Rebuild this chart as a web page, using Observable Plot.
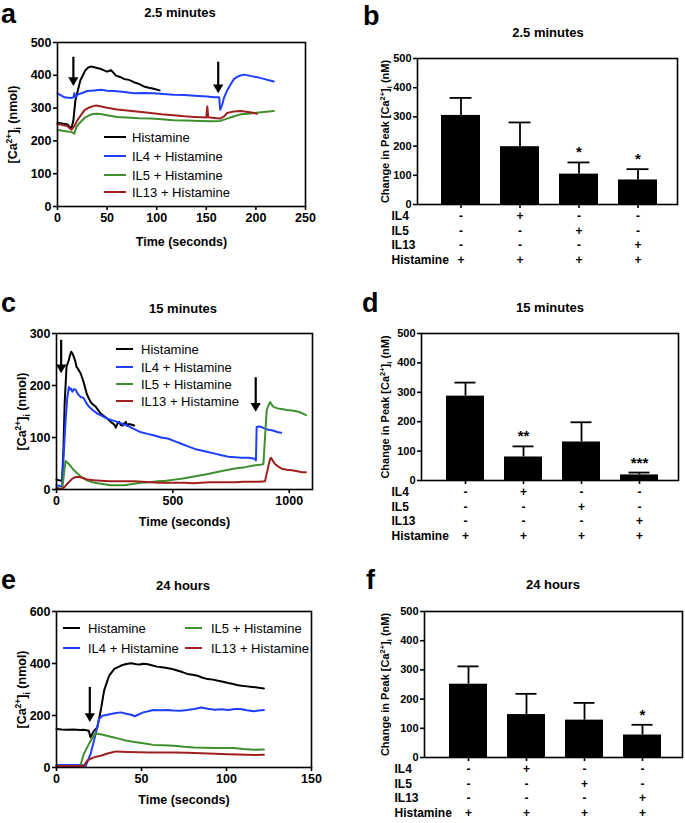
<!DOCTYPE html>
<html><head><meta charset="utf-8">
<script src="https://cdn.jsdelivr.net/npm/d3@7"></script>
<script src="https://cdn.jsdelivr.net/npm/@observablehq/plot@0.6"></script>
<style>
body{margin:0;background:#fff;}
#root{position:relative;width:685px;height:823px;overflow:hidden;font-family:"Liberation Sans",Arial,Helvetica,sans-serif;color:#000;}
.letter{position:absolute;font-weight:bold;font-size:27px;line-height:29px;}
.title{position:absolute;font-weight:bold;font-size:13px;line-height:13px;transform:translateX(-50%);white-space:nowrap;}
.leg{position:absolute;height:16px;display:flex;align-items:center;font-size:13px;white-space:nowrap;}
.sw{display:inline-block;height:2.5px;}
</style>
</head><body><div id="root"></div>
<script>
// ---------- data ----------
const seriesNames = ["Histamine", "IL4 + Histamine", "IL5 + Histamine", "IL13 + Histamine"];
const seriesColors = ["#000000", "#1f3fff", "#3f8f2f", "#a02020"];

// Panel a: 2.5 minutes traces [time s, Ca nmol]
const aHist = [[0,255],[6,252],[10,250],[14,237],[16,262],[18,323],[23,384],[28,415],[31,424],[34,427],[38,424],[44,419],[50,411],[54,416],[59,399],[63,395],[67,389],[72,386],[77,379],[82,374],[87,366],[92,362],[97,359],[103,354]];
const aIL4 = [[0,345],[4,338],[7,333],[13,331],[16,332],[17,345],[18,333],[20,341],[25,346],[30,352],[37,354],[44,356],[50,353],[57,352],[65,350],[77,345],[87,346],[97,345],[107,343],[117,341],[128,340],[138,338],[151,335],[158,333],[163,333],[164,295],[166,310],[168,333],[171,354],[175,375],[178,389],[183,398],[188,402],[193,399],[198,396],[203,393],[208,389],[213,385],[218,381]];
const aIL5 = [[0,234],[5,231],[10,229],[15,226],[17,222],[19,242],[22,254],[25,263],[28,272],[32,278],[36,282],[40,283],[45,281],[50,278],[60,273],[70,271],[82,269],[94,268],[105,266],[117,263],[130,262],[144,261],[155,260],[164,261],[168,265],[171,268],[178,275],[185,281],[192,283],[198,285],[208,288],[218,291]];
const aIL13 = [[0,252],[6,248],[10,245],[14,234],[17,245],[20,263],[24,280],[27,293],[32,302],[36,306],[39,308],[44,305],[50,301],[60,296],[70,293],[82,289],[94,285],[105,281],[117,278],[128,275],[138,273],[145,272],[150,271],[151,305],[152,272],[158,270],[164,268],[168,275],[171,285],[178,290],[185,291],[192,288],[197,286],[201,283]];
const aArrows = [{t:16, top:455, tip:376}, {t:162, top:440, tip:354}];
const aXTicks = [0, 50, 100, 150, 200, 250];
const aYTicks = [0, 100, 200, 300, 400, 500];

// Panel c: 15 minutes traces
const cHist = [[0,19],[10,18],[24,17],[30,80],[35,165],[43,236],[53,249],[58,258],[63,265],[68,262],[72,258],[80,248],[86,236],[95,230],[104,223],[111,214],[118,204],[124,194],[130,184],[138,176],[147,168],[158,163],[169,159],[180,152],[190,146],[205,141],[219,136],[233,130],[248,125],[255,119],[262,127],[269,130],[276,124],[284,123],[291,127],[298,130],[305,122],[312,126],[320,125],[334,123]];
const cIL4 = [[0,8],[10,7],[24,6],[30,60],[39,133],[46,175],[53,197],[58,192],[63,194],[68,188],[75,193],[82,192],[90,185],[97,181],[104,178],[111,177],[118,175],[126,168],[133,163],[140,159],[155,153],[176,146],[197,141],[219,136],[240,133],[262,130],[284,126],[305,123],[334,116],[363,110],[392,107],[421,104],[450,100],[478,98],[507,93],[536,88],[565,83],[594,78],[622,75],[651,72],[680,69],[709,66],[738,63],[767,62],[796,61],[824,61],[853,59],[857,56],[860,120],[870,121],[882,120],[896,117],[911,115],[925,114],[939,112],[952,110],[965,109]];
const cIL5 = [[0,3],[15,2],[25,2],[32,30],[39,55],[46,52],[53,49],[64,43],[75,37],[90,31],[104,25],[118,21],[133,17],[155,14],[176,12],[205,10],[233,8],[262,8],[291,8],[320,10],[363,13],[400,14],[435,16],[470,17],[507,19],[543,21],[579,24],[615,27],[651,30],[695,34],[738,38],[774,41],[810,43],[846,46],[882,48],[889,49],[896,100],[903,152],[911,162],[918,168],[925,163],[932,159],[950,156],[968,155],[990,153],[1012,152],[1035,150],[1055,147],[1072,143]];
const cIL13 = [[0,2],[24,1],[35,5],[46,11],[57,16],[68,21],[82,24],[97,24],[115,22],[133,19],[160,18],[190,17],[226,16],[262,16],[298,16],[334,16],[370,15],[406,14],[442,13],[478,13],[514,13],[550,13],[586,12],[622,13],[658,14],[695,14],[731,14],[767,14],[803,15],[839,15],[870,15],[896,16],[903,30],[911,46],[918,58],[922,61],[930,55],[939,49],[953,44],[968,40],[990,38],[1012,37],[1035,35],[1055,33],[1072,33]];
const cArrows = [{t:20, top:287, tip:229}, {t:856, top:215, tip:155}];
const cXTicks = [0, 500, 1000];
const cYTicks = [0, 100, 200, 300];

// Panel e: 24 hours traces
const eHist = [[0,148],[3,146],[6,145],[10,146],[14,144],[16,145],[19,141],[20,116],[21,128],[22,141],[24,154],[26,218],[28,296],[30,335],[31,353],[34,379],[38,392],[41,398],[44,401],[47,397],[49,396],[51,399],[53,398],[56,393],[59,388],[62,386],[65,383],[68,379],[71,373],[74,367],[77,360],[80,357],[83,353],[86,345],[89,340],[92,338],[95,334],[98,330],[101,325],[104,321],[106,317],[109,314],[112,312],[115,310],[118,308],[120,306],[122,304]];
const eIL4 = [[0,10],[8,10],[15,10],[17,3],[20,51],[23,128],[25,186],[27,199],[30,203],[32,206],[35,210],[38,212],[41,207],[44,203],[46,197],[48,203],[51,212],[54,216],[57,221],[61,220],[65,221],[69,219],[73,218],[77,221],[81,225],[85,231],[89,226],[93,222],[97,224],[101,221],[105,225],[108,225],[112,220],[116,216],[119,219],[122,221]];
const eIL5 = [[0,6],[8,6],[14,6],[16,51],[19,90],[21,112],[23,131],[26,128],[29,123],[32,118],[36,112],[40,105],[44,100],[48,96],[52,92],[57,87],[63,86],[69,84],[75,80],[81,77],[87,76],[93,75],[99,75],[104,75],[110,71],[116,68],[122,69]];
const eIL13 = [[0,6],[8,6],[16,6],[18,26],[20,33],[22,39],[26,45],[30,54],[33,59],[35,62],[38,61],[42,60],[48,59],[55,58],[62,58],[69,58],[77,57],[85,55],[93,53],[101,51],[107,50],[112,49],[117,48],[122,49]];
const eArrows = [{t:19.6, top:308, tip:186}];
const eXTicks = [0, 50, 100, 150];
const eYTicks = [0, 200, 400, 600];

// Bar panels: change in peak [Ca2+]i (nM), mean and SEM
const barCats = seriesNames;
const bMean = [305, 198, 104, 84];
const bSem = [60, 83, 40, 37];
const bStars = ["", "", "*", "*"];
const dMean = [287, 80, 131, 19];
const dSem = [46, 36, 67, 8];
const dStars = ["", "**", "", "***"];
const fMean = [251, 147, 128, 77];
const fSem = [61, 71, 59, 35];
const fStars = ["", "", "", "*"];
const barYTicks = [0, 100, 200, 300, 400, 500];

// treatment table under the bars
const treatRows = ["IL4", "IL5", "IL13", "Histamine"];
const treatIL4 = ["-", "+", "-", "-"];
const treatIL5 = ["-", "-", "+", "-"];
const treatIL13 = ["-", "-", "-", "+"];
const treatHist = ["+", "+", "+", "+"];
const treatTable = [treatIL4, treatIL5, treatIL13, treatHist];

const panelTitles = ["2.5 minutes", "2.5 minutes", "15 minutes", "15 minutes", "24 hours", "24 hours"];
const panelLetters = ["a", "b", "c", "d", "e", "f"];

// ---------- drawing ----------
const FONT = '"Liberation Sans", Arial, Helvetica, sans-serif';
const root = document.getElementById("root");
function place(node, left, top) {
  node.style.position = "absolute";
  node.style.left = left + "px";
  node.style.top = top + "px";
  root.appendChild(node);
  return node;
}
function richCa(svg) {
  const ns = "http://www.w3.org/2000/svg";
  svg.querySelectorAll("text").forEach(t => {
    const s = t.textContent;
    const i = s.indexOf("[Ca2+]i");
    if (i < 0) return;
    const fs = parseFloat(getComputedStyle(t).fontSize) || 12;
    const pre = s.slice(0, i) + "[Ca", post = s.slice(i + 7);
    t.textContent = "";
    const add = (txt, dy, size) => {
      const ts = document.createElementNS(ns, "tspan");
      ts.textContent = txt;
      if (dy) ts.setAttribute("dy", dy);
      if (size) ts.setAttribute("font-size", size);
      t.appendChild(ts);
    };
    add(pre);
    add("2+", -0.42 * fs, 0.68 * fs);
    add("]", 0.42 * fs);
    add("i", 0.28 * fs, 0.68 * fs);
    add(post, -0.28 * fs);
  });
}

function linePanel(o) {
  const rows = [];
  o.series.forEach((pts, i) => pts.forEach(([t, v]) => rows.push({t, v, s: seriesNames[i]})));
  const svg = Plot.plot({
    width: o.w, height: o.h,
    marginLeft: o.ml, marginRight: o.mr, marginTop: o.mt, marginBottom: o.mb,
    style: {fontFamily: FONT, color: "#000", background: "transparent", overflow: "visible"},
    x: {domain: o.xDomain},
    y: {domain: o.yDomain},
    color: {domain: seriesNames, range: seriesColors},
    marks: [
      Plot.line(rows, {x: "t", y: "v", z: "s", stroke: "s", strokeWidth: 2, strokeLinejoin: "round"}),
      Plot.ruleX(o.arrows, {x: "t", y1: "top", y2: "tip", stroke: "#000", strokeWidth: 2.2}),
      Plot.dot(o.arrows, {x: "t", y: "tip", symbol: "triangle", rotate: 180, r: 3.8, fill: "#000", dy: -3}),
      Plot.frame({stroke: "#000", strokeWidth: 1.6}),
      Plot.axisX(o.xTicks, {tickSize: 4, tickPadding: 3, strokeWidth: 1.6, fontSize: 12.5, fontWeight: "bold",
        tickFormat: d => String(d),
        label: "Time (seconds)", labelAnchor: "center", labelArrow: "none", labelOffset: o.xLabelOffset}),
      Plot.axisY(o.yTicks, {tickSize: 4, tickPadding: 2, strokeWidth: 1.6, fontSize: 12.5, fontWeight: "bold",
        tickFormat: d => String(d),
        label: "[Ca2+]i (nmol)", labelAnchor: "center", labelArrow: "none", labelOffset: o.yLabelOffset})
    ]
  });
  place(svg, o.left, o.top);
  richCa(svg);
}

function barPanel(o) {
  const data = barCats.map((c, i) => ({c, mean: o.means[i], top: o.means[i] + o.sems[i], star: o.stars[i]}));
  const rowDy = [15.5, 30, 44.5, 59];
  const marks = [
    Plot.barY(data, {x: "c", y: "mean", fill: "#000"}),
    Plot.ruleX(data, {x: "c", y1: "mean", y2: "top", stroke: "#000", strokeWidth: 1.8}),
    Plot.tickY(data, {x: "c", y: "top", stroke: "#000", strokeWidth: 1.8, insetLeft: 8.5, insetRight: 8.5}),
    Plot.text(data.filter(d => d.star), {x: "c", y: "top", text: "star", dy: -5, lineAnchor: "bottom", fontSize: 15, fontWeight: "bold"}),
    Plot.frame({stroke: "#000", strokeWidth: 1.6}),
    Plot.axisY(barYTicks, {tickSize: 4, tickPadding: 2, strokeWidth: 1.6, fontSize: 11, fontWeight: "bold",
      label: "Change in Peak [Ca2+]i (nM)", labelAnchor: "center", labelArrow: "none", labelOffset: o.yLabelOffset}),
    Plot.axisX({tickSize: 4, strokeWidth: 1.6, tickFormat: () => "", label: null})
  ];
  treatTable.forEach((row, j) => {
    marks.push(Plot.text(row, {x: (d, i) => barCats[i], frameAnchor: "bottom", dy: rowDy[j], text: d => d, fontSize: 12, fontWeight: "bold"}));
    marks.push(Plot.text([treatRows[j]], {frameAnchor: "bottom-left", dx: o.rowDx, dy: rowDy[j], text: d => d, textAnchor: "start", fontSize: 12, fontWeight: "bold"}));
  });
  const svg = Plot.plot({
    width: o.w, height: o.h,
    marginLeft: o.ml, marginRight: o.mr, marginTop: o.mt, marginBottom: o.mb,
    style: {fontFamily: FONT, color: "#000", background: "transparent", overflow: "visible"},
    x: {domain: barCats, paddingInner: 0.34, paddingOuter: 0.36, align: 0.55},
    y: {domain: [0, 500]},
    marks
  });
  place(svg, o.left, o.top);
  richCa(svg);
}

function legend(entries) {
  entries.forEach(e => {
    const div = document.createElement("div");
    div.className = "leg";
    const sw = document.createElement("span");
    sw.className = "sw";
    sw.style.width = e.sw + "px";
    sw.style.background = seriesColors[e.i];
    sw.style.marginRight = (e.tx - e.sx - e.sw) + "px";
    const tx = document.createElement("span");
    tx.textContent = seriesNames[e.i];
    div.appendChild(sw); div.appendChild(tx);
    place(div, e.sx, e.cy - 8);
  });
}

function header(k, lx, ly, tx, ty) {
  const l = document.createElement("div");
  l.className = "letter"; l.textContent = panelLetters[k];
  place(l, lx, ly);
  const t = document.createElement("div");
  t.className = "title"; t.textContent = panelTitles[k];
  place(t, tx, ty);
}

// Panel a
linePanel({left: 0, top: 30, w: 320, h: 225, ml: 57, mr: 15, mt: 12, mb: 49,
  xDomain: [0, 250], yDomain: [0, 500], xTicks: aXTicks, yTicks: aYTicks,
  series: [aHist, aIL4, aIL5, aIL13], arrows: aArrows,
  xLabelOffset: 39, yLabelOffset: 49});
legend([
  {i: 0, sx: 104, sw: 22, tx: 132, cy: 137},
  {i: 1, sx: 104, sw: 22, tx: 132, cy: 156},
  {i: 2, sx: 104, sw: 22, tx: 132, cy: 175},
  {i: 3, sx: 104, sw: 22, tx: 132, cy: 192}
]);
header(0, 1, 0, 180, 6);

// Panel b
barPanel({left: 340, top: 45, w: 345, h: 230, ml: 77, mr: 8, mt: 13, mb: 71,
  means: bMean, sems: bSem, stars: bStars, yLabelOffset: 36, rowDx: -26});
header(1, 363, 2, 548, 26);

// Panel c
linePanel({left: 0, top: 320, w: 330, h: 210, ml: 56, mr: 18, mt: 13, mb: 41,
  xDomain: [0, 1100], yDomain: [0, 300], xTicks: cXTicks, yTicks: cYTicks,
  series: [cHist, cIL4, cIL5, cIL13], arrows: cArrows,
  xLabelOffset: 36, yLabelOffset: 39});
legend([
  {i: 0, sx: 116, sw: 17, tx: 141, cy: 349},
  {i: 1, sx: 116, sw: 17, tx: 141, cy: 367},
  {i: 2, sx: 116, sw: 17, tx: 141, cy: 384},
  {i: 3, sx: 116, sw: 17, tx: 141, cy: 401}
]);
header(2, 1, 289, 183, 302);

// Panel d
barPanel({left: 340, top: 320, w: 345, h: 230, ml: 81, mr: 7, mt: 13, mb: 70,
  means: dMean, sems: dSem, stars: dStars, yLabelOffset: 40, rowDx: -30});
header(3, 362, 289, 550, 301);

// Panel e
linePanel({left: 0, top: 598, w: 330, h: 225, ml: 56, mr: 19, mt: 13, mb: 56,
  xDomain: [0, 150], yDomain: [0, 600], xTicks: eXTicks, yTicks: eYTicks,
  series: [eHist, eIL4, eIL5, eIL13], arrows: eArrows,
  xLabelOffset: 36, yLabelOffset: 39});
legend([
  {i: 0, sx: 63, sw: 17, tx: 88, cy: 628},
  {i: 1, sx: 63, sw: 17, tx: 88, cy: 648},
  {i: 2, sx: 185, sw: 17, tx: 211, cy: 628},
  {i: 3, sx: 185, sw: 17, tx: 211, cy: 648}
]);
header(4, 1, 566, 183, 579);

// Panel f
barPanel({left: 340, top: 598, w: 345, h: 225, ml: 84, mr: 3, mt: 13, mb: 66,
  means: fMean, sems: fSem, stars: fStars, yLabelOffset: 43, rowDx: -30});
header(5, 366, 566, 553, 578);
</script>
</body></html>
